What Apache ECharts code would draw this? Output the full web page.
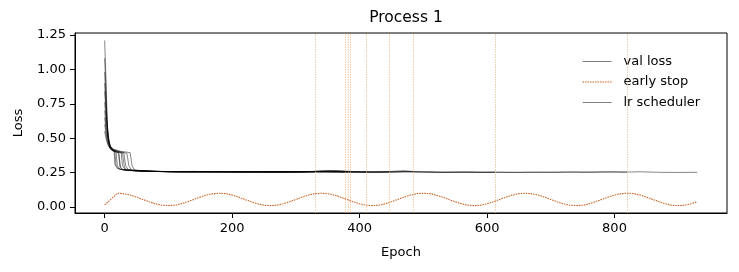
<!DOCTYPE html>
<html>
<head>
<meta charset="utf-8">
<script src="https://cdn.jsdelivr.net/npm/echarts@6/dist/echarts.min.js"></script>
<style>html,body{margin:0;padding:0;background:#fff}#c{width:739px;height:272px}</style>
</head>
<body>
<div id="c"></div>
<script>
// ---- data ----
const xTicks = [0, 200, 400, 600, 800];
const yTicks = [0, 0.25, 0.5, 0.75, 1.0, 1.25];
const yTickLabels = ['0.00', '0.25', '0.50', '0.75', '1.00', '1.25'];

// val loss for each run: [epoch, loss]
const runA = [[0,1.21],[2,0.95],[4,0.62],[6,0.48],[8,0.43],[12,0.41],[18,0.40],[20,0.30],[24,0.275],[35,0.268],[50,0.263],[75,0.259],[100,0.257],[130,0.258],[160,0.255],[190,0.257],[220,0.254],[250,0.256],[280,0.253],[310,0.255],[330,0.254]];
const runB = [[0,1.08],[2,0.86],[4,0.58],[6,0.47],[9,0.42],[14,0.405],[22,0.395],[25,0.29],[29,0.272],[40,0.266],[60,0.261],[85,0.258],[110,0.256],[140,0.259],[170,0.255],[200,0.256],[230,0.258],[260,0.254],[290,0.255],[320,0.257],[350,0.262],[377,0.256]];
const runC = [[0,0.98],[3,0.70],[5,0.52],[8,0.44],[12,0.415],[20,0.40],[28,0.39],[31,0.29],[35,0.27],[50,0.263],[70,0.26],[95,0.257],[125,0.255],[155,0.257],[185,0.256],[215,0.254],[245,0.257],[275,0.255],[305,0.256],[335,0.259],[360,0.264],[382,0.257]];
const runD = [[0,0.90],[2,0.74],[5,0.55],[8,0.45],[12,0.42],[20,0.405],[30,0.395],[33,0.30],[37,0.272],[50,0.265],[70,0.26],[100,0.258],[130,0.256],[160,0.258],[190,0.254],[220,0.256],[250,0.255],[280,0.257],[310,0.254],[340,0.262],[365,0.258],[385,0.255]];
const runE = [[0,0.84],[3,0.63],[6,0.50],[9,0.44],[14,0.415],[25,0.40],[35,0.39],[38,0.30],[42,0.27],[55,0.264],[75,0.26],[100,0.257],[130,0.255],[160,0.256],[190,0.258],[220,0.255],[250,0.253],[280,0.256],[310,0.258],[340,0.256],[370,0.263],[395,0.257],[410,0.255]];
const runF = [[0,0.76],[3,0.60],[6,0.49],[9,0.44],[14,0.42],[25,0.405],[40,0.395],[43,0.30],[47,0.27],[60,0.263],[80,0.259],[110,0.256],[140,0.257],[170,0.254],[200,0.256],[230,0.257],[260,0.254],[290,0.256],[320,0.255],[350,0.26],[380,0.257],[410,0.255],[446,0.256]];
const runG = [[0,0.70],[3,0.56],[6,0.47],[10,0.43],[16,0.41],[22,0.39],[24,0.29],[28,0.272],[40,0.266],[60,0.261],[90,0.258],[120,0.256],[150,0.255],[180,0.257],[210,0.255],[240,0.256],[270,0.254],[300,0.256],[330,0.258],[360,0.261],[390,0.256],[420,0.254],[450,0.259],[470,0.264],[485,0.257]];
const runH = [[0,0.65],[3,0.53],[6,0.46],[10,0.425],[15,0.405],[16,0.31],[20,0.28],[30,0.268],[50,0.262],[80,0.258],[110,0.256],[140,0.255],[170,0.256],[200,0.254],[230,0.255],[260,0.257],[290,0.254],[320,0.256],[350,0.255],[380,0.253],[410,0.255],[440,0.254],[470,0.258],[500,0.256],[530,0.253],[560,0.254],[590,0.252],[613,0.253]];
const runI = [[0,0.60],[3,0.50],[6,0.45],[10,0.42],[16,0.40],[18,0.30],[22,0.276],[35,0.266],[55,0.261],[80,0.258],[110,0.256],[140,0.254],[170,0.256],[200,0.255],[230,0.253],[260,0.255],[290,0.254],[320,0.256],[350,0.254],[380,0.252],[410,0.254],[440,0.253],[470,0.256],[500,0.254],[530,0.252],[560,0.253],[590,0.252],[620,0.254],[650,0.251],[680,0.253],[710,0.252],[740,0.255],[770,0.253],[800,0.256],[820,0.253]];
const runJ = [[0,0.55],[3,0.48],[6,0.44],[10,0.42],[16,0.405],[26,0.395],[28,0.30],[32,0.274],[45,0.265],[65,0.26],[90,0.257],[120,0.255],[150,0.256],[180,0.254],[210,0.255],[240,0.253],[270,0.255],[300,0.254],[330,0.256],[360,0.253],[390,0.254],[420,0.252],[450,0.254],[480,0.256],[510,0.253],[540,0.252],[570,0.254],[600,0.252],[630,0.251],[660,0.253],[690,0.252],[720,0.254],[750,0.252],[780,0.255],[810,0.253],[840,0.256],[870,0.252],[900,0.251],[930,0.252]];
const valRuns = [runA, runB, runC, runD, runE, runF, runG, runH, runI, runJ];

// early stop epochs (vertical lines)
const stopEpochs = [377, 382, 385, 410, 446, 485];
const stopEpochsFaint = [330, 613, 820];

// wave curve, sampled every 10 epochs from 0 to 930
const waveEpochs = [0,10,20,30,40,50,60,70,80,90,100,110,120,130,140,150,160,170,180,190,200,210,220,230,240,250,260,270,280,290,300,310,320,330,340,350,360,370,380,390,400,410,420,430,440,450,460,470,480,490,500,510,520,530,540,550,560,570,580,590,600,610,620,630,640,650,660,670,680,690,700,710,720,730,740,750,760,770,780,790,800,810,820,830,840,850,860,870,880,890,900,910,920,930];
const waveValues = [0.015,0.057,
0.100,0.097,0.087,0.072,0.055,0.038,0.023,0.013,0.010,0.013,0.023,0.038,0.055,0.072,0.087,0.097,
0.100,0.097,0.087,0.072,0.055,0.038,0.023,0.013,0.010,0.013,0.023,0.038,0.055,0.072,0.087,0.097,
0.100,0.097,0.087,0.072,0.055,0.038,0.023,0.013,0.010,0.013,0.023,0.038,0.055,0.072,0.087,0.097,
0.100,0.097,0.087,0.072,0.055,0.038,0.023,0.013,0.010,0.013,0.023,0.038,0.055,0.072,0.087,0.097,
0.100,0.097,0.087,0.072,0.055,0.038,0.023,0.013,0.010,0.013,0.023,0.038,0.055,0.072,0.087,0.097,
0.100,0.097,0.087,0.072,0.055,0.038,0.023,0.013,0.010,0.013,0.023,0.038];

// ---- chart ----
const FONT = 'DejaVu Sans';
const ORANGE = '#c8601e';
const GREY = '#808080';
const series = [];
valRuns.forEach((r, i) => {
  series.push({
    name: i === 0 ? 'val loss' : 'val loss ' + i,
    type: 'line', data: r, symbol: 'none', silent: true,
    itemStyle: { color: GREY },
    lineStyle: { color: '#000', width: 0.8, opacity: 0.6 },
    z: 3
  });
});
series.push({
  name: 'early stop', type: 'line', symbol: 'none', silent: true,
  data: waveEpochs.map((e, i) => [e, waveValues[i]]),
  itemStyle: { color: ORANGE },
  lineStyle: { color: ORANGE, width: 1.1, type: [1.5, 1] },
  z: 2,
  markLine: {
    silent: true, symbol: 'none', label: { show: false },
    data: stopEpochs.map(e => ({ xAxis: e }))
      .concat(stopEpochsFaint.map(e => ({ xAxis: e, lineStyle: { color: '#e6bf98', opacity: 0.8 } }))),
    lineStyle: { color: '#f2aa6a', width: 1, type: [1.5, 1], opacity: 0.6 }
  }
});
series.push({
  name: 'lr scheduler', type: 'line', symbol: 'none', data: [],
  itemStyle: { color: GREY },
  lineStyle: { color: GREY, width: 1 }
});

const chart = echarts.init(document.getElementById('c'), null, { renderer: 'canvas' });
chart.setOption({
  animation: false,
  backgroundColor: '#fff',
  title: {
    text: 'Process 1', left: 401, top: 5, textAlign: 'center',
    textStyle: { fontFamily: FONT, fontSize: 15.5, fontWeight: 'normal', color: '#000' }
  },
  legend: {
    orient: 'vertical', left: 577, top: 50, itemWidth: 29, itemHeight: 12, itemGap: 7.5,
    itemStyle: { opacity: 0 },
    textStyle: { fontFamily: FONT, fontSize: 13, color: '#000', padding: [0, 0, 0, 7] },
    data: [
      { name: 'val loss', itemStyle: { opacity: 0 }, lineStyle: { color: GREY, width: 1, opacity: 1 } },
      { name: 'early stop', itemStyle: { opacity: 0 }, lineStyle: { color: ORANGE, width: 1, type: [1.5, 1] } },
      { name: 'lr scheduler', itemStyle: { opacity: 0 }, lineStyle: { color: GREY, width: 1 } }
    ]
  },
  grid: { left: 75, right: 12, top: 33, bottom: 59, show: true, borderColor: '#000', borderWidth: 1, backgroundColor: 'transparent' },
  xAxis: {
    type: 'value', min: -46.5, max: 976.5,
    name: 'Epoch', nameLocation: 'middle', nameGap: 33,
    nameTextStyle: { fontFamily: FONT, fontSize: 13, color: '#000' },
    axisLine: { show: true, onZero: false, lineStyle: { color: '#000', width: 1 } },
    axisTick: { show: true, length: 5, lineStyle: { color: '#000' }, customValues: xTicks },
    axisLabel: { fontFamily: FONT, fontSize: 13, color: '#000', margin: 9, customValues: xTicks },
    splitLine: { show: false }
  },
  yAxis: {
    type: 'value', min: -0.0436, max: 1.2645,
    name: 'Loss', nameLocation: 'middle', nameGap: 50, nameRotate: 90,
    nameTextStyle: { fontFamily: FONT, fontSize: 13, color: '#000' },
    axisLine: { show: true, onZero: false, lineStyle: { color: '#000', width: 1 } },
    axisTick: { show: true, length: 5, lineStyle: { color: '#000' }, customValues: yTicks },
    axisLabel: {
      fontFamily: FONT, fontSize: 13, color: '#000', margin: 9, customValues: yTicks,
      formatter: v => { const i = yTicks.findIndex(t => Math.abs(t - v) < 1e-9); return i >= 0 ? yTickLabels[i] : ''; }
    },
    splitLine: { show: false }
  },
  series: series
});
</script>
</body>
</html>
